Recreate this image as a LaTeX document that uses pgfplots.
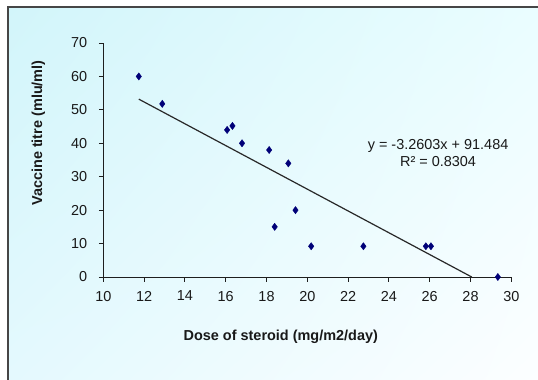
\documentclass[border=0pt]{standalone}
\usepackage{fontspec}
\setmainfont{Liberation Sans}
\usepackage{pgfplots}
\pgfplotsset{compat=1.18}
\usetikzlibrary{shadings}
\definecolor{bgUL}{RGB}{210,245,250}
\definecolor{bgUR}{RGB}{234,253,255}
\definecolor{bgLL}{RGB}{228,249,254}
\definecolor{bgLR}{RGB}{252,254,255}
\definecolor{framec}{RGB}{70,70,70}
\definecolor{axc}{RGB}{30,30,30}
\definecolor{txt}{RGB}{25,25,25}
\definecolor{mk}{RGB}{0,0,120}
\definecolor{trend}{RGB}{40,40,40}
\newcommand{\cf}{\fontsize{14.5}{17}\selectfont}
\begin{document}
\begin{tikzpicture}[x=1bp,y=1bp]
\useasboundingbox (0,0) rectangle (538,379);
\fill[white] (0,0) rectangle (538,379);
\shade[upper left=bgUL, upper right=bgUR, lower left=bgLL, lower right=bgLR] (8,0) rectangle (538,371.5);
\draw[framec, line width=2bp] (8,-2) -- (8,371.5) -- (540,371.5);
\begin{axis}[
  at={(103.3bp,102bp)}, anchor=south west,
  scale only axis, width=408bp, height=234bp,
  xmin=10, xmax=30, ymin=0, ymax=70,
  xtick={10,12,...,30}, ytick={0,10,...,70},
  axis x line*=bottom, axis y line*=left,
  axis line style={draw=axc, line width=1bp, -},
  tick align=outside, major tick length=4.5bp,
  tick style={draw=axc, line width=1bp},
  tick label style={font=\cf, text=txt},
  /pgf/number format/assume math mode=true,
  xticklabel style={yshift=-6bp},
  yticklabel style={xshift=-8bp},
  xlabel={\bfseries Dose of steroid (mg/m2/day)},
  ylabel={\bfseries Vaccine titre (mlu/ml)},
  x label style={at={(axis description cs:0.435,-0.256)}, anchor=center, font=\cf, text=txt},
  y label style={at={(axis description cs:-0.159,0.615)}, anchor=center, font=\cf, text=txt},
  clip=true,
]
\addplot[draw=trend, line width=1.2bp, no marks] coordinates {(11.74,53.208) (28.06,0)};
\addplot[only marks, mark=diamond*, mark size=3.6bp, mark options={fill=mk, draw=mk}] coordinates {
(11.74,60) (12.89,51.8) (16.07,44) (16.33,45.2) (16.80,40) (18.13,38)
(19.07,34) (18.40,15) (19.42,20) (20.19,9.2) (22.75,9.2) (25.81,9.2)
(26.06,9.2) (29.34,0)
};
\node[align=center, font=\cf, text=txt] at (axis cs:26.41,37.2) {y = -3.2603x + 91.484\\R² = 0.8304};
\end{axis}
\end{tikzpicture}
\end{document}
